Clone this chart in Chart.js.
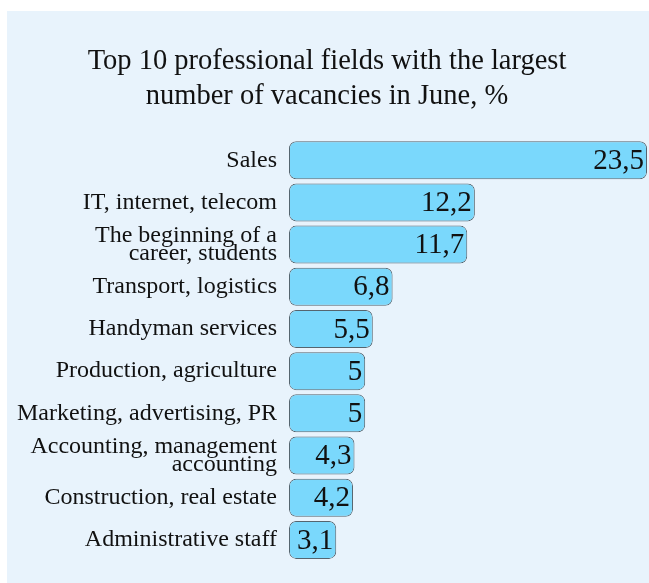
<!DOCTYPE html>
<html>
<head>
<meta charset="utf-8">
<script src="https://cdn.jsdelivr.net/npm/chart.js@4/dist/chart.umd.min.js"></script>
<style>
  html, body { margin: 0; padding: 0; background: #ffffff; }
  #panel { position: absolute; left: 7px; top: 11px; width: 642px; height: 572px; background: #e8f3fc; }
  canvas { display: block; }
</style>
</head>
<body>
<div id="panel"><canvas id="c" width="642" height="572"></canvas></div>
<script>
const titleLines = ["Top 10 professional fields with the largest", "number of vacancies in June, %"];
const categories = [
  "Sales",
  "IT, internet, telecom",
  ["The beginning of a", "career, students"],
  "Transport, logistics",
  "Handyman services",
  "Production, agriculture",
  "Marketing, advertising, PR",
  ["Accounting, management", "accounting"],
  "Construction, real estate",
  "Administrative staff"
];
const values = [23.5, 12.2, 11.7, 6.8, 5.5, 5, 5, 4.3, 4.2, 3.1];

const valueLabels = {
  id: 'valueLabels',
  afterDatasetsDraw(chart) {
    const ctx = chart.ctx;
    const meta = chart.getDatasetMeta(0);
    ctx.save();
    ctx.font = '29px "Liberation Serif", "Times New Roman", serif';
    ctx.fillStyle = '#111';
    ctx.textAlign = 'right';
    ctx.textBaseline = 'middle';
    meta.data.forEach((bar, i) => {
      const txt = String(values[i]).replace('.', ',');
      ctx.fillText(txt, bar.x - 3, bar.y + 1);
    });
    ctx.restore();
  }
};

new Chart(document.getElementById('c'), {
  type: 'bar',
  data: {
    labels: categories,
    datasets: [{
      data: values,
      backgroundColor: '#7ad8fc',
      borderColor: '#55656f',
      borderWidth: 1,
      borderRadius: 7,
      borderSkipped: false,
      barPercentage: 0.9,
      categoryPercentage: 1.0
    }]
  },
  options: {
    indexAxis: 'y',
    responsive: false,
    animation: false,
    layout: { padding: { left: 0, right: 2, top: 0, bottom: 22 } },
    plugins: {
      legend: { display: false },
      tooltip: { enabled: false },
      title: {
        display: true,
        text: titleLines,
        color: '#111',
        font: { family: '"Liberation Serif", "Times New Roman", serif', size: 28.5, weight: 'normal', lineHeight: 1.23 },
        padding: { top: 33, bottom: 25 }
      }
    },
    scales: {
      x: { display: false, min: 0, max: 23.5 },
      y: {
        afterFit(s) { s.width = 282; },
        grid: { display: false, drawTicks: false },
        border: { display: false },
        ticks: {
          padding: 12,
          color: '#111',
          font: { family: '"Liberation Serif", "Times New Roman", serif', size: 24, lineHeight: 0.76 }
        }
      }
    }
  },
  plugins: [valueLabels]
});
</script>
</body>
</html>
